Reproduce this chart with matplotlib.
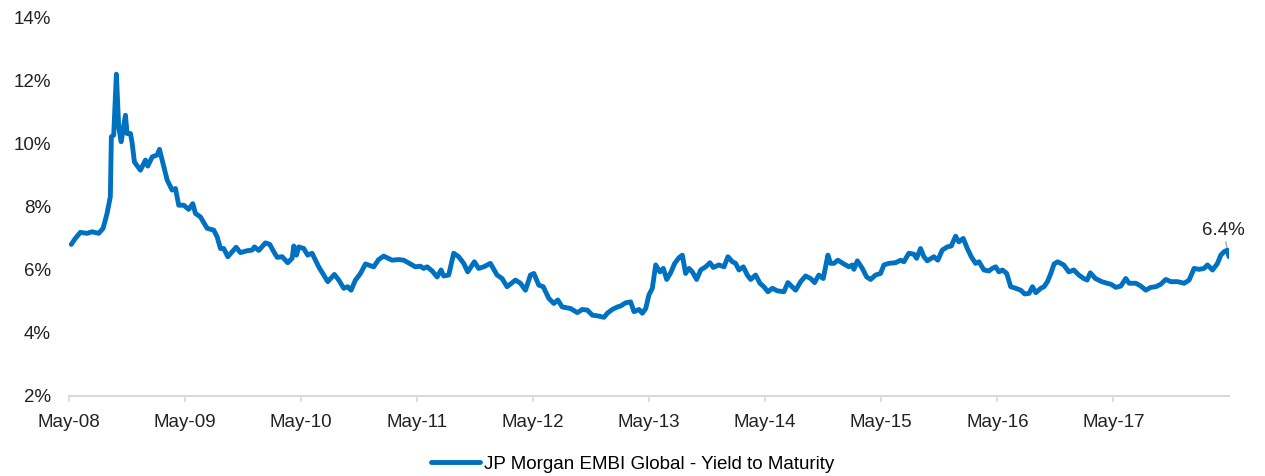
import datetime as dt
import matplotlib
matplotlib.use("Agg")
import matplotlib.pyplot as plt
import matplotlib.dates as mdates
from matplotlib.ticker import FuncFormatter

# ---- data (decimal year, yield %) ----
years = [
    2008.350, 2008.385, 2008.428, 2008.486, 2008.529, 2008.586, 2008.624, 2008.658, 2008.686, 2008.695,
    2008.715, 2008.738, 2008.758, 2008.779, 2008.816, 2008.830, 2008.859, 2008.874, 2008.893, 2008.945,
    2008.988, 2009.008, 2009.046, 2009.089, 2009.109, 2009.146, 2009.175, 2009.218, 2009.247, 2009.275,
    2009.318, 2009.361, 2009.396, 2009.419, 2009.462, 2009.520, 2009.577, 2009.606, 2009.635, 2009.663,
    2009.698, 2009.736, 2009.770, 2009.807, 2009.865, 2009.908, 2009.928, 2009.965, 2010.023, 2010.060,
    2010.094, 2010.124, 2010.167, 2010.215, 2010.253, 2010.267, 2010.290, 2010.310, 2010.353, 2010.387,
    2010.425, 2010.482, 2010.525, 2010.560, 2010.617, 2010.655, 2010.698, 2010.732, 2010.761, 2010.799,
    2010.842, 2010.885, 2010.956, 2010.999, 2011.042, 2011.115, 2011.172, 2011.215, 2011.273, 2011.316,
    2011.359, 2011.387, 2011.417, 2011.460, 2011.503, 2011.537, 2011.560, 2011.603, 2011.646, 2011.689,
    2011.732, 2011.767, 2011.824, 2011.861, 2011.905, 2011.962, 2012.020, 2012.063, 2012.106, 2012.178,
    2012.221, 2012.264, 2012.307, 2012.336, 2012.379, 2012.417, 2012.465, 2012.508, 2012.542, 2012.580,
    2012.652, 2012.710, 2012.753, 2012.796, 2012.839, 2012.896, 2012.939, 2012.968, 2013.011, 2013.055,
    2013.083, 2013.126, 2013.169, 2013.198, 2013.241, 2013.270, 2013.299, 2013.327, 2013.356, 2013.385,
    2013.422, 2013.451, 2013.480, 2013.514, 2013.549, 2013.586, 2013.615, 2013.643, 2013.672, 2013.701,
    2013.738, 2013.773, 2013.816, 2013.853, 2013.882, 2013.930, 2013.974, 2014.008, 2014.046, 2014.074,
    2014.103, 2014.141, 2014.175, 2014.204, 2014.247, 2014.284, 2014.318, 2014.353, 2014.391, 2014.434,
    2014.491, 2014.525, 2014.555, 2014.592, 2014.635, 2014.678, 2014.721, 2014.755, 2014.792, 2014.830,
    2014.870, 2014.893, 2014.922, 2014.956, 2015.008, 2015.051, 2015.080, 2015.094, 2015.124, 2015.167,
    2015.204, 2015.238, 2015.281, 2015.324, 2015.353, 2015.396, 2015.454, 2015.497, 2015.525, 2015.568,
    2015.611, 2015.635, 2015.669, 2015.698, 2015.727, 2015.784, 2015.818, 2015.856, 2015.899, 2015.934,
    2015.971, 2015.999, 2016.037, 2016.072, 2016.106, 2016.143, 2016.172, 2016.215, 2016.258, 2016.287,
    2016.316, 2016.344, 2016.374, 2016.411, 2016.445, 2016.488, 2016.531, 2016.566, 2016.603, 2016.632,
    2016.661, 2016.704, 2016.732, 2016.761, 2016.790, 2016.818, 2016.848, 2016.901, 2016.945, 2016.988,
    2017.031, 2017.074, 2017.102, 2017.130, 2017.174, 2017.230, 2017.274, 2017.307, 2017.350, 2017.393,
    2017.436, 2017.465, 2017.523, 2017.566, 2017.609, 2017.652, 2017.695, 2017.738, 2017.781, 2017.824,
    2017.882, 2017.939, 2017.982, 2018.025, 2018.068, 2018.111, 2018.140, 2018.184, 2018.227, 2018.255,
    2018.284, 2018.313, 2018.326,
]
yields = [
    6.80, 6.99, 7.18, 7.15, 7.20, 7.15, 7.31, 7.78, 8.31, 10.21,
    10.26, 12.19, 10.52, 10.05, 10.89, 10.31, 10.31, 10.00, 9.41, 9.15,
    9.47, 9.28, 9.57, 9.63, 9.81, 9.26, 8.84, 8.52, 8.57, 8.04,
    8.04, 7.91, 8.09, 7.78, 7.67, 7.31, 7.25, 7.04, 6.67, 6.67,
    6.41, 6.57, 6.71, 6.54, 6.60, 6.62, 6.72, 6.61, 6.85, 6.80,
    6.57, 6.39, 6.41, 6.22, 6.36, 6.75, 6.46, 6.72, 6.67, 6.46,
    6.52, 6.09, 5.83, 5.62, 5.85, 5.67, 5.41, 5.46, 5.35, 5.67,
    5.88, 6.18, 6.09, 6.32, 6.43, 6.30, 6.32, 6.30, 6.18, 6.09,
    6.11, 6.04, 6.09, 5.96, 5.77, 5.99, 5.80, 5.83, 6.52, 6.41,
    6.20, 5.93, 6.25, 6.04, 6.09, 6.20, 5.83, 5.72, 5.46, 5.67,
    5.57, 5.35, 5.83, 5.88, 5.51, 5.46, 5.09, 4.93, 5.04, 4.82,
    4.77, 4.64, 4.74, 4.72, 4.56, 4.53, 4.49, 4.62, 4.74, 4.82,
    4.85, 4.95, 4.98, 4.67, 4.74, 4.62, 4.77, 5.20, 5.41, 6.15,
    5.93, 6.04, 5.69, 5.90, 6.20, 6.38, 6.46, 5.88, 6.04, 5.93,
    5.69, 5.99, 6.09, 6.22, 6.07, 6.15, 6.09, 6.41, 6.25, 6.20,
    5.99, 6.09, 5.83, 5.69, 5.83, 5.57, 5.46, 5.30, 5.41, 5.33,
    5.30, 5.59, 5.48, 5.35, 5.62, 5.80, 5.72, 5.59, 5.83, 5.72,
    6.46, 6.20, 6.20, 6.30, 6.18, 6.09, 6.15, 6.01, 6.28, 6.04,
    5.77, 5.69, 5.83, 5.88, 6.15, 6.20, 6.22, 6.30, 6.25, 6.52,
    6.49, 6.36, 6.67, 6.41, 6.28, 6.41, 6.30, 6.62, 6.72, 6.75,
    7.06, 6.88, 6.99, 6.67, 6.41, 6.20, 6.25, 5.99, 5.96, 6.04,
    6.09, 5.93, 5.99, 5.88, 5.46, 5.41, 5.35, 5.23, 5.25, 5.46,
    5.27, 5.41, 5.46, 5.62, 5.88, 6.18, 6.25, 6.15, 5.93, 5.99,
    5.83, 5.72, 5.67, 5.90, 5.72, 5.62, 5.57, 5.54, 5.44, 5.48,
    5.72, 5.57, 5.57, 5.48, 5.35, 5.44, 5.46, 5.54, 5.69, 5.62,
    5.62, 5.57, 5.67, 6.04, 6.01, 6.04, 6.15, 5.99, 6.20, 6.46,
    6.57, 6.62, 6.41,
]
tick_years = list(range(2008, 2018))
series_label = "JP Morgan EMBI Global - Yield to Maturity"
y_ticks = [2, 4, 6, 8, 10, 12, 14]
last_label = "6.4%"


def to_date(y):
    yr = int(y)
    start = dt.datetime(yr, 1, 1)
    days = (dt.datetime(yr + 1, 1, 1) - start).days
    return start + dt.timedelta(days=(y - yr) * days)


dates = [to_date(y) for y in years]

FONT = "Liberation Sans"
plt.rcParams["font.family"] = [FONT, "DejaVu Sans"]

fig = plt.figure(figsize=(12.65, 4.76), dpi=100)
ax = fig.add_axes([69 / 1265, 80 / 476, (1229 - 69) / 1265, (459 - 80) / 476])

line, = ax.plot(dates, yields, color="#0070C0", lw=3.5, solid_joinstyle="round",
                solid_capstyle="round", label=series_label)

ax.set_ylim(2, 14)
ax.set_yticks(y_ticks)
ax.yaxis.set_major_formatter(FuncFormatter(lambda v, p: f"{v:.0f}%"))
ax.set_xlim(dt.datetime(2008, 5, 1), dates[-1])

ax.set_xticks([dt.datetime(y, 5, 1) for y in tick_years])
ax.xaxis.set_major_formatter(mdates.DateFormatter("%b-%y"))

for s in ["top", "right", "left"]:
    ax.spines[s].set_visible(False)
ax.spines["bottom"].set_color("#d9d9d9")
ax.spines["bottom"].set_linewidth(1.5)

ax.tick_params(axis="y", length=0, pad=13, labelsize=13.5, labelcolor="#222222")
ax.tick_params(axis="x", length=4, width=1.2, color="#d9d9d9", pad=9,
               labelsize=13.5, labelcolor="#222222")

# end-value annotation
ax.annotate(last_label, xy=(dates[-2], yields[-2]), xytext=(-3, 8),
            textcoords="offset points", ha="center", va="bottom",
            fontsize=13.5, color="#222222",
            arrowprops=dict(arrowstyle="-", color="#a6a6a6", lw=1,
                            shrinkA=0, shrinkB=2))

fig.legend(handles=[line], labels=[series_label], loc="center",
           bbox_to_anchor=(0.5, 1 - 464 / 476), frameon=False, fontsize=13.5,
           handlelength=2.6, handletextpad=0.2, borderaxespad=0)

fig.savefig("out.png", dpi=100)
